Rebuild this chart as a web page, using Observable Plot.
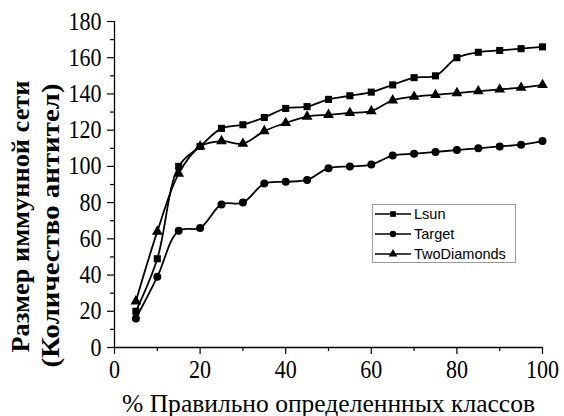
<!DOCTYPE html>
<html><head><meta charset="utf-8">
<script src="https://cdn.jsdelivr.net/npm/d3@7"></script>
<script src="https://cdn.jsdelivr.net/npm/@observablehq/plot@0.6"></script>
<style>
html,body{margin:0;padding:0;background:#fff;}
#wrap{position:relative;width:564px;height:416px;}
#legend{position:absolute;left:372px;top:204px;width:144px;height:59px;border:1px solid #9a9a9a;background:#fff;box-sizing:border-box;}
#legend text{font-family:'Liberation Sans',Arial,sans-serif;font-size:14.5px;}
</style></head><body><div id="wrap"></div>
<script>
const pct = [5,10,15,20,25,30,35,40,45,50,55,60,65,70,75,80,85,90,95,100];
const lsun = [20,49,100,111,121,123,127,132,133,137,139,141,145,149,150,160,163,164,165,166];
const target = [16,39,64.5,66,79,80,90.5,91.5,92.5,99,100,101,106,107,108,109,110,111,112,114];
const twoDiamonds = [25.5,64,96,111,114,112.5,119.5,124,127.5,128.5,129.5,130.5,136.5,138.5,139.5,140.5,141.5,142.5,143.5,145];
const seriesNames = ["Lsun","Target","TwoDiamonds"];
const seriesValues = [lsun, target, twoDiamonds];
const seriesSymbols = ["square","circle","triangle"];
const xTicks = [0,20,40,60,80,100];
const xMinor = [10,30,50,70,90];
const yTicks = [0,20,40,60,80,100,120,140,160,180];
const yMinor = [10,30,50,70,90,110,130,150,170];
const xTitle = "% Правильно определеннных классов";
const yTitle1 = "Размер иммунной сети";
const yTitle2 = "(Количество антител)";

const rows = [];
seriesNames.forEach((name, i) => pct.forEach((p, j) => rows.push({series: name, sym: seriesSymbols[i], x: p, y: seriesValues[i][j]})));

const serif = "'Liberation Serif','Times New Roman',serif";
const chart = Plot.plot({
  width: 564, height: 416,
  marginLeft: 114, marginRight: 22, marginTop: 21, marginBottom: 69,
  style: {fontSize: "25px", background: "#fff", color: "#000", fontFamily: serif},
  x: {domain: [0, 100]},
  y: {domain: [0, 180]},
  marks: [
    Plot.ruleY([0], {x1: 0, x2: 100, stroke: "#000", strokeWidth: 1.3}),
    Plot.ruleX([0], {y1: 0, y2: 180, stroke: "#000", strokeWidth: 1.3}),
    Plot.axisX(xTicks, {tickSize: 7, tickPadding: 6, strokeWidth: 1.2, fontSize: 25, label: null}),
    Plot.axisX(xMinor, {tickSize: 4, text: null, strokeWidth: 1.2, label: null}),
    Plot.axisY(yTicks, {tickSize: 7, tickPadding: 6, strokeWidth: 1.2, fontSize: 25, label: null}),
    Plot.axisY(yMinor, {tickSize: 4, text: null, strokeWidth: 1.2, label: null}),
    Plot.line(rows, {x: "x", y: "y", z: "series", stroke: "#000", strokeWidth: 1.8, curve: "catmull-rom"}),
    Plot.dot(rows, {x: "x", y: "y", symbol: "sym", r: 4, fill: "#000", stroke: "none"}),
    Plot.text([xTitle], {frameAnchor: "bottom", textAnchor: "middle", lineAnchor: "middle", dy: 56, fontSize: 25, className: "xtitle"}),
    Plot.text([yTitle1], {frameAnchor: "left", textAnchor: "middle", lineAnchor: "middle", rotate: -90, dx: -94, dy: 32, fontSize: 25, fontWeight: "bold", className: "ytitle1"}),
    Plot.text([yTitle2], {frameAnchor: "left", textAnchor: "middle", lineAnchor: "middle", rotate: -90, dx: -64, dy: 41, fontSize: 25, fontWeight: "bold", className: "ytitle2"})
  ]
});
chart.id = "chart";
const wrap = document.getElementById("wrap");
wrap.appendChild(chart);

const svg = d3.select(chart);
svg.selectAll("text").style("font-family", serif);
// horizontal compression to match reference glyph proportions
svg.selectAll("g[aria-label$='tick label'] text").each(function() {
  const n = this.textContent.length;
  d3.select(this).attr("textLength", n * 11).attr("lengthAdjust", "spacingAndGlyphs");
});
svg.selectAll(".xtitle text").attr("textLength", 413).attr("lengthAdjust", "spacingAndGlyphs");
svg.selectAll(".ytitle1 text").attr("textLength", 272).attr("lengthAdjust", "spacingAndGlyphs");
svg.selectAll(".ytitle2 text").attr("textLength", 284).attr("lengthAdjust", "spacingAndGlyphs");

// legend overlay
const ns = "http://www.w3.org/2000/svg";
const leg = document.createElement("div");
leg.id = "legend";
const ls = document.createElementNS(ns, "svg");
ls.setAttribute("width", 142); ls.setAttribute("height", 57);
seriesNames.forEach((name, i) => {
  const cy = 9 + i * 20;
  const g = document.createElementNS(ns, "g");
  const ln = document.createElementNS(ns, "line");
  ln.setAttribute("x1", 2); ln.setAttribute("x2", 38); ln.setAttribute("y1", cy); ln.setAttribute("y2", cy);
  ln.setAttribute("stroke", "#000"); ln.setAttribute("stroke-width", 1.6);
  g.appendChild(ln);
  const p = document.createElementNS(ns, "path");
  const sym = {square: d3.symbolSquare, circle: d3.symbolCircle, triangle: d3.symbolTriangle}[seriesSymbols[i]];
  p.setAttribute("d", d3.symbol(sym, Math.PI * 3.2 * 3.2)());
  p.setAttribute("transform", `translate(20,${cy})`);
  p.setAttribute("fill", "#000");
  g.appendChild(p);
  const t = document.createElementNS(ns, "text");
  t.setAttribute("x", 41); t.setAttribute("y", cy); t.setAttribute("dy", "0.36em");
  t.textContent = name;
  g.appendChild(t);
  ls.appendChild(g);
});
leg.appendChild(ls);
wrap.appendChild(leg);
</script></body></html>
